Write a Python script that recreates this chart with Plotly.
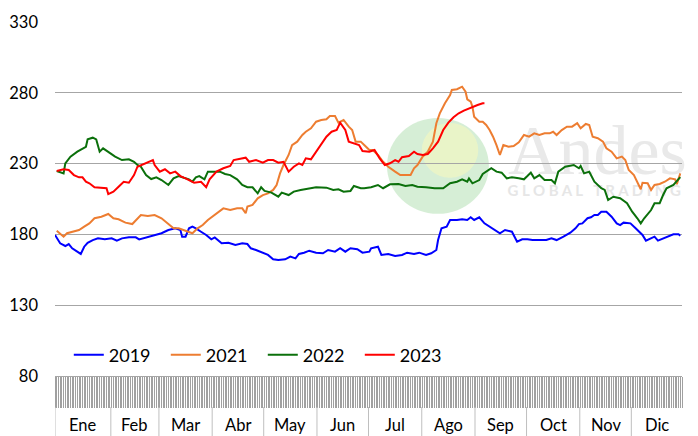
import plotly.graph_objects as go

# ---- data (day of year, value) ----
d2019 = [0,3,6,8,10,13,15,17,19,22,25,29,33,36,39,43,47,49,52,55,58,62,66,70,73,74,76,78,80,82,85,88,91,93,97,101,105,109,112,114,117,121,124,127,130,134,137,140,142,145,148,152,156,159,163,166,169,172,176,179,183,184,188,190,194,198,202,205,209,212,216,219,222,223,225,228,230,234,237,240,242,244,247,250,253,256,259,262,266,269,272,275,278,282,286,289,292,296,300,303,305,307,310,312,314,316,318,321,324,327,329,331,335,338,341,342,344,347,349,351,354,357,360,363,364]
v2019 = [179.6,173.7,171.8,173.2,170.2,167.8,166.2,171.3,174.1,176.0,177.2,176.5,177.2,175.6,177.2,177.9,177.9,176.5,177.6,178.4,179.6,180.8,183.1,184.3,183.1,178.4,178.4,184.3,185.5,184.3,181.9,179.6,176.5,177.9,173.7,174.1,172.5,173.7,173.2,170.2,169.0,167.1,165.5,162.4,161.9,162.4,164.3,163.1,166.2,167.1,168.5,167.1,166.7,169.0,167.8,170.2,167.8,170.2,169.5,167.1,167.8,170.2,171.3,165.5,166.2,164.8,165.5,167.1,166.2,167.1,165.5,166.7,169.0,176.0,184.3,185.5,190.2,190.2,190.7,190.2,192.1,190.2,192.1,187.8,185.5,183.6,180.8,183.1,181.9,174.9,176.5,176.5,176.0,176.0,176.0,177.2,176.0,178.4,181.2,184.3,187.3,187.8,191.4,192.1,193.7,193.7,196.0,196.0,192.5,187.8,186.6,188.3,187.8,184.3,180.8,179.6,175.6,177.2,178.4,175.6,177.2,178.4,180.1,180.1,179.1]

d2021 = [1,5,7,10,14,17,20,23,27,31,34,37,41,45,48,50,54,58,62,66,69,72,75,78,80,83,86,89,93,98,102,106,109,111,112,115,118,121,124,127,129,131,133,136,138,141,144,146,149,152,155,158,160,163,165,168,171,173,175,178,180,183,185,188,191,194,198,201,204,207,209,211,214,217,220,222,224,227,230,231,234,237,239,240,242,243,244,247,249,251,253,255,257,259,261,264,267,270,273,276,279,282,285,288,290,292,295,298,301,304,306,309,311,313,316,319,321,324,327,330,332,334,337,339,341,342,345,347,349,352,355,358,361,362,364]
v2021 = [182.5,178.4,180.8,181.9,183.1,185.5,187.8,191.4,192.5,194.4,191.4,190.7,188.3,187.3,191.4,193.7,193.0,193.7,191.4,187.3,184.3,184.3,183.1,181.9,180.8,184.3,186.6,190.2,193.7,198.4,197.2,198.4,198.4,194.9,199.6,200.8,205.5,207.8,209.0,211.4,214.9,223.1,229.0,236.1,243.1,245.5,250.2,252.5,254.9,259.6,260.8,261.3,263.6,263.6,258.9,260.8,256.1,253.7,245.5,245.5,243.1,239.6,239.6,236.1,231.3,227.8,224.3,221.9,221.9,221.9,226.7,229.0,234.9,238.4,245.5,258.5,265.5,272.6,278.4,282.0,282.5,284.3,280.8,275.4,273.7,270.2,263.1,259.6,259.6,257.3,253.7,249.0,243.1,236.1,243.1,241.9,242.4,245.0,250.2,249.0,251.4,250.2,251.4,251.4,252.5,250.2,253.7,256.1,256.1,258.5,254.9,258.0,257.3,249.0,247.9,245.5,240.8,238.4,233.7,234.9,232.5,225.5,221.9,217.2,211.9,216.5,216.1,211.4,214.9,215.6,217.2,219.6,218.9,215.5,223.1]

d2022 = [1,5,6,9,13,16,18,19,22,24,26,28,31,35,39,43,46,48,50,53,56,59,62,66,69,72,75,78,80,82,84,87,89,93,96,99,102,106,109,112,115,118,120,122,126,130,132,136,139,143,148,152,158,162,165,168,172,174,178,180,184,188,191,195,200,204,208,211,216,221,226,230,234,237,240,241,243,247,249,251,254,257,260,263,266,270,273,275,277,279,282,285,289,291,293,297,302,305,306,308,311,314,318,320,322,325,329,333,336,339,341,343,347,349,352,354,356,360,363,364]
v2022 = [224.8,223.1,230.2,234.9,238.4,240.8,241.9,247.1,248.3,247.1,238.4,240.8,238.4,234.9,232.5,233.0,231.3,229.0,227.8,221.9,219.1,220.3,218.4,214.9,219.6,221.2,220.0,218.9,217.2,220.3,221.2,218.9,224.3,224.3,224.3,222.7,221.9,218.9,214.9,213.3,213.3,209.0,213.3,210.7,209.5,206.6,209.5,207.8,210.2,211.4,212.6,213.3,213.0,211.4,211.9,210.2,210.7,214.2,212.6,212.6,213.3,214.9,212.6,215.4,215.6,214.2,214.9,213.7,213.3,212.6,212.6,216.1,217.2,218.9,217.2,219.6,216.1,218.4,222.7,224.3,226.7,224.3,223.6,219.6,220.3,219.6,218.9,221.2,223.6,219.6,221.9,218.4,218.4,216.1,224.3,227.8,229.0,226.7,228.3,223.1,224.3,217.2,212.6,211.4,204.3,206.6,205.5,202.0,196.0,191.4,187.8,191.4,197.2,202.0,202.0,207.8,212.6,214.9,219.6,220.5]

d2023 = [1,5,8,11,14,16,18,20,23,27,30,31,34,37,40,43,46,48,51,54,57,58,61,64,67,70,73,76,79,81,85,88,90,94,98,102,104,108,111,113,117,121,124,127,130,133,136,139,142,144,146,149,152,155,158,161,164,166,169,171,174,177,179,183,186,189,192,195,198,200,202,206,209,211,214,217,220,223,226,229,232,235,238,241,243,246,249,250]
v2023 = [224.8,226.0,225.5,221.9,220.3,220.3,217.2,216.1,213.3,212.6,212.6,208.5,210.2,213.7,217.2,216.5,221.9,227.8,229.5,231.3,232.5,229.0,224.3,226.0,223.1,224.3,221.2,219.6,217.7,216.5,217.2,213.3,218.9,224.3,226.7,228.3,232.5,233.7,234.2,231.3,232.5,230.6,232.5,232.5,230.6,231.3,224.3,227.8,230.2,229.0,233.7,233.0,238.4,244.3,249.0,252.5,253.7,258.9,253.7,245.5,244.3,243.1,238.9,238.4,239.6,233.7,229.0,230.2,232.5,231.3,234.5,235.4,238.4,236.8,236.1,236.8,240.8,245.5,253.7,258.9,262.7,265.5,267.4,269.1,270.2,271.4,272.6,272.6]

series_names = ["2019", "2021", "2022", "2023"]
series_colors = ["#0000FF", "#ED7D31", "#0B700B", "#FF0000"]

months = ["Ene", "Feb", "Mar", "Abr", "May", "Jun", "Jul", "Ago", "Sep", "Oct", "Nov", "Dic"]
month_days = [31, 28, 31, 30, 31, 30, 31, 31, 30, 31, 30, 31]
y_ticks = [80, 130, 180, 230, 280, 330]

FONT = "Lato"

fig = go.Figure()
for name, color, xs, ys in zip(series_names, series_colors,
                               [d2019, d2021, d2022, d2023],
                               [v2019, v2021, v2022, v2023]):
    fig.add_trace(go.Scatter(x=xs, y=ys, mode="lines", name=name,
                             line=dict(color=color, width=2)))

# month edges
edges = [0]
for md in month_days:
    edges.append(edges[-1] + md)
sep = [0] + [e + 1.5 for e in edges[1:-1]] + [365]

shapes = []
annotations = []
for i, m in enumerate(months):
    annotations.append(dict(x=(sep[i] + sep[i + 1]) / 2, y=-0.139, xref="x", yref="paper",
                            text=m, showarrow=False, font=dict(family=FONT, size=16.5, color="#000000"),
                            xanchor="center", yanchor="middle", borderpad=0))
for s in sep[:-1]:
    shapes.append(dict(type="line", xref="x", yref="paper", x0=s, x1=s, y0=-0.0876, y1=-0.17,
                       line=dict(color="#BFBFBF", width=1)))

# watermark (globe + text) drawn behind the lines
shapes.append(dict(type="circle", xref="paper", yref="paper", x0=0.5295, x1=0.692, y0=0.458, y1=0.729,
                   fillcolor="rgba(120,200,120,0.30)", line=dict(width=0), layer="between"))
shapes.append(dict(type="circle", xref="paper", yref="paper", x0=0.585, x1=0.675, y0=0.56, y1=0.715,
                   fillcolor="rgba(250,250,190,0.55)", line=dict(width=0), layer="between"))
shapes.append(dict(type="rect", xref="paper", yref="paper", x0=0.75, x1=0.98, y0=0.58, y1=0.74,
                   fillcolor="rgba(0,0,0,0)", line=dict(width=0), layer="between",
                   label=dict(text="Andes", font=dict(family="Liberation Serif", size=70, color="#E9E9E9"),
                              textposition="middle center")))
shapes.append(dict(type="rect", xref="paper", yref="paper", x0=0.72, x1=1.0, y0=0.50, y1=0.55,
                   fillcolor="rgba(0,0,0,0)", line=dict(width=0), layer="between",
                   label=dict(text="G L O B A L   T R A D I N G",
                              font=dict(family=FONT, size=15, color="#E6E6E6", weight="bold"),
                              textposition="middle center")))

day_ticks = list(range(0, 366))

# the page body adds an 8px offset; size/margins compensate so the plot area lands at 55..682 x 22..376
fig.update_layout(
    width=690, height=428,
    margin=dict(l=47, r=16, t=14, b=60),
    paper_bgcolor="white", plot_bgcolor="white",
    font=dict(family=FONT, color="#000000"),
    showlegend=True,
    legend=dict(orientation="h", x=0.022, y=0.059, xanchor="left", yanchor="middle",
                font=dict(family=FONT, size=18, color="#000000"),
                bgcolor="rgba(0,0,0,0)", entrywidth=52, entrywidthmode="pixels"),
    xaxis=dict(range=[0, 365], tickmode="array", tickvals=day_ticks, ticks="outside",
               ticklen=31, tickwidth=1, tickcolor="#A0A0A0", showticklabels=False,
               showgrid=False, zeroline=False, showline=True, linecolor="#A6A6A6", linewidth=1,
               fixedrange=True, automargin=False),
    yaxis=dict(range=[80, 330], tickmode="array", tickvals=y_ticks, showgrid=True,
               gridcolor="#A6A6A6", gridwidth=1, zeroline=False, showline=False,
               tickfont=dict(family=FONT, size=16.5, color="#000000"), ticklabelstandoff=16,
               fixedrange=True, automargin=False),
    shapes=shapes,
    annotations=annotations,
)

fig.write_html("out.html")
